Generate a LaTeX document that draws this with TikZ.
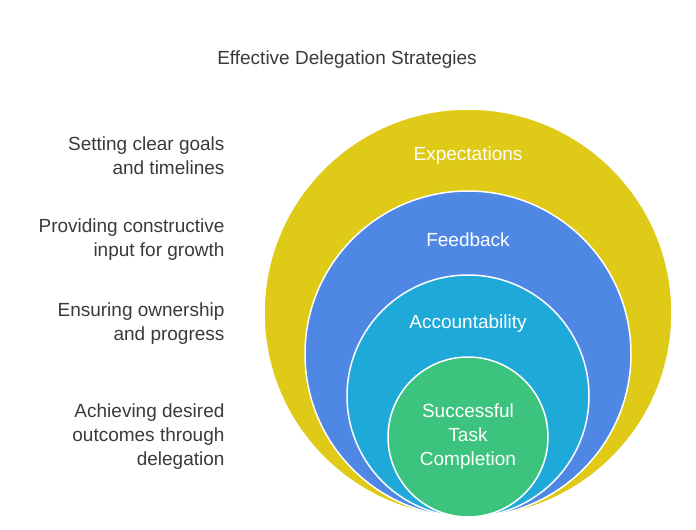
\documentclass[tikz,border=0pt]{standalone}
\usepackage{fontspec}
\setmainfont{Liberation Sans}
\definecolor{cy}{HTML}{DFCA17}
\definecolor{cb}{HTML}{4F87E5}
\definecolor{cc}{HTML}{1EA9D9}
\definecolor{cg}{HTML}{3CC47F}
\definecolor{tx}{HTML}{3A3A3A}
\begin{document}
\begin{tikzpicture}[x=1pt,y=-1pt,
  lbl/.style={text=white,font=\fontsize{19}{24}\selectfont,align=center},
  side/.style={text=tx,font=\fontsize{19}{24}\selectfont,align=right,anchor=east}]
\useasboundingbox (0,0) rectangle (696,530);
\fill[cy,draw=white,line width=1.5pt] (468,313) circle (204);
\fill[cb,draw=white,line width=1.5pt] (468,354) circle (163);
\fill[cc,draw=white,line width=1.5pt] (468,396) circle (121);
\fill[cg,draw=white,line width=1.5pt] (468,437) circle (80);
\node[lbl] (e) at (468,156) {Expectations};
\node[lbl] (f) at (468,240) {Feedback};
\node[lbl] (a) at (468,324) {Accountability};
\node[lbl] (s) at (468,437) {Successful\\Task\\Completion};
\node[text=tx,font=\fontsize{19}{24}\selectfont] (t) at (347,60) {Effective Delegation Strategies};
\node[side] (l1) at (228,156) {Setting clear goals\\and timelines};
\node[side] (l2) at (228,240) {Providing constructive\\input for growth};
\node[side] (l3) at (228,324) {Ensuring ownership\\and progress};
\node[side] (l4) at (228,437) {Achieving desired\\outcomes through\\delegation};
\end{tikzpicture}
\end{document}
